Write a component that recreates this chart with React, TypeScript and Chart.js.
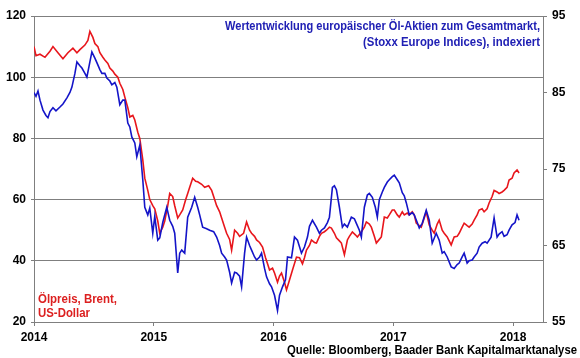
import React, { useEffect, useRef } from "react";
import { Chart, registerables } from "chart.js";

Chart.register(...registerables);

// x values: months since January 2014
const oilMonths = [0, 0.2, 0.6, 1.1, 1.6, 1.9, 2.4, 2.9, 3.4, 3.9, 4.3, 4.6, 5.1, 5.4, 5.6, 5.9, 6.1, 6.4, 6.6, 6.9, 7.1, 7.4, 7.6, 7.9, 8.1, 8.4, 8.6, 8.9, 9.1, 9.4, 9.6, 9.9, 10.1, 10.4, 10.6, 10.9, 11.1, 11.4, 11.6, 11.9, 12.1, 12.4, 12.6, 12.9, 13.1, 13.4, 13.6, 13.9, 14.1, 14.4, 14.6, 14.9, 15.2, 15.4, 15.6, 15.9, 16.2, 16.4, 16.8, 17.1, 17.5, 17.8, 18.1, 18.3, 18.6, 18.8, 19.1, 19.3, 19.6, 19.8, 20.1, 20.4, 20.6, 21.0, 21.3, 21.6, 21.8, 22.1, 22.3, 22.6, 22.9, 23.2, 23.4, 23.6, 23.9, 24.1, 24.4, 24.6, 24.8, 25.1, 25.3, 25.6, 25.9, 26.3, 26.6, 26.9, 27.1, 27.3, 27.6, 27.8, 28.1, 28.3, 28.6, 28.8, 29.1, 29.3, 29.6, 29.8, 30.1, 30.3, 30.6, 30.8, 31.1, 31.4, 31.6, 31.9, 32.2, 32.4, 32.7, 32.9, 33.1, 33.3, 33.6, 33.8, 34.1, 34.3, 34.6, 34.8, 35.1, 35.4, 35.6, 35.9, 36.1, 36.4, 36.6, 36.9, 37.1, 37.4, 37.6, 37.9, 38.1, 38.3, 38.6, 38.8, 39.1, 39.3, 39.6, 39.9, 40.1, 40.4, 40.6, 40.9, 41.1, 41.4, 41.8, 42.1, 42.4, 42.6, 42.9, 43.1, 43.4, 43.6, 43.9, 44.1, 44.4, 44.6, 44.9, 45.1, 45.4, 45.6, 45.9, 46.1, 46.4, 46.6, 46.9, 47.1, 47.4, 47.6, 47.9, 48.1, 48.4, 48.6];
const oilPrice = [110, 107, 107.5, 106.5, 108.5, 110, 108, 106, 108, 109.5, 108, 109, 110.5, 112, 115, 113, 111, 110, 108, 106.5, 105.6, 104.5, 103, 102, 101, 100, 98, 96, 93.5, 90, 87, 87.5, 86, 82, 80, 73, 67, 63, 60, 58, 57, 53, 49, 51, 53, 58, 62, 61, 58, 54, 55, 56.6, 60, 62, 64, 67, 66, 65.8, 65, 64, 64.5, 63, 60, 58, 56, 54, 51, 49, 47, 43.5, 50, 49, 48, 49, 52.7, 50, 49, 48, 46.8, 46, 44.5, 41, 39, 37, 37.6, 36, 33, 35, 36, 33, 30.5, 33.7, 37, 41.2, 41, 39, 41, 43.5, 45, 46.8, 46, 45.8, 48, 49, 49.5, 50, 51, 50.7, 49, 47.5, 46.5, 45.8, 42, 46.8, 48, 49.4, 48.5, 47.8, 49, 50, 51, 52.7, 52, 51, 48, 45.8, 47, 47.8, 54.3, 54, 55, 56.6, 56.6, 55, 54.3, 56, 55, 55.6, 55, 56, 55, 52.3, 51.5, 51, 54, 56, 51.7, 50, 49, 52, 53.3, 50, 49, 47.8, 45.2, 47.8, 48, 49, 51, 52.3, 51.5, 51, 52, 53.3, 55, 56.6, 57, 56, 57, 58.9, 61, 63, 62.5, 62, 62.5, 63, 64, 66.4, 67, 68.7, 69.7, 68.7];

const stockMonths = [0, 0.2, 0.4, 0.6, 0.9, 1.2, 1.4, 1.6, 1.9, 2.2, 2.6, 2.9, 3.3, 3.6, 3.8, 4.1, 4.3, 4.6, 4.8, 5.1, 5.3, 5.6, 5.8, 6.1, 6.3, 6.6, 6.8, 7.1, 7.3, 7.6, 7.8, 8.1, 8.3, 8.6, 8.9, 9.1, 9.4, 9.6, 9.8, 10.1, 10.3, 10.6, 10.9, 11.1, 11.4, 11.6, 11.9, 12.1, 12.4, 12.6, 12.9, 13.3, 13.6, 13.9, 14.1, 14.4, 14.6, 14.8, 15.1, 15.4, 15.8, 16.1, 16.4, 16.6, 16.9, 17.3, 17.6, 18.0, 18.3, 18.6, 18.8, 19.1, 19.3, 19.6, 19.8, 20.1, 20.3, 20.6, 20.8, 21.1, 21.3, 21.6, 21.8, 22.1, 22.3, 22.6, 22.8, 23.1, 23.3, 23.6, 23.8, 24.1, 24.4, 24.6, 24.9, 25.2, 25.4, 25.8, 26.1, 26.4, 26.8, 27.1, 27.4, 27.6, 27.9, 28.3, 28.6, 28.8, 29.1, 29.4, 29.6, 29.9, 30.1, 30.3, 30.6, 30.9, 31.1, 31.4, 31.8, 32.1, 32.3, 32.6, 32.8, 33.1, 33.4, 33.6, 33.9, 34.2, 34.4, 34.6, 34.9, 35.1, 35.4, 35.6, 35.9, 36.1, 36.4, 36.6, 36.9, 37.1, 37.3, 37.6, 37.9, 38.1, 38.4, 38.6, 38.9, 39.3, 39.6, 39.9, 40.3, 40.6, 40.9, 41.1, 41.4, 41.8, 42.1, 42.4, 42.6, 42.9, 43.1, 43.4, 43.6, 43.9, 44.1, 44.4, 44.6, 44.9, 45.2, 45.4, 45.8, 46.1, 46.4, 46.6, 46.9, 47.1, 47.4, 47.6, 47.9, 48.2, 48.4, 48.6];
const stockIndex = [85, 84.5, 85.2, 84, 82.7, 82, 81.7, 82.5, 83, 82.6, 83.1, 83.5, 84.3, 85, 85.7, 87.5, 89, 88.5, 88.2, 87.5, 87, 89, 90.3, 89.5, 88.9, 88, 87.5, 87.5, 86.9, 86.5, 86, 86.3, 85.7, 83.4, 84, 84, 81, 80.5, 79.2, 78.4, 76.6, 78.1, 73.6, 70, 69, 69.9, 66.6, 68.8, 65.7, 66, 68, 70, 68.3, 67.5, 66.6, 61.4, 64, 64.4, 64, 68.7, 70, 71.3, 70, 69, 67.4, 67.2, 67, 66.8, 66.1, 65, 64, 63.5, 63.1, 61.5, 60.1, 61.5, 61.4, 61, 59.6, 64, 66.1, 65, 64.4, 63.5, 63.1, 63.5, 64, 62, 60.9, 60, 59.6, 58.5, 56.5, 58.5, 59.6, 60.5, 63.5, 63.4, 66.1, 65.7, 64, 64.8, 66.1, 67.5, 68.3, 67.4, 66.6, 67, 67.3, 68, 68.7, 72.6, 72.8, 72.3, 70, 67.4, 67.8, 67.4, 68.7, 68.5, 67.9, 67, 66.1, 70, 71.6, 71.8, 71.3, 70, 68.7, 71, 72, 72.6, 73.3, 73.6, 74, 74.2, 73.6, 73.2, 71.9, 71.5, 70.6, 69, 69.3, 69, 68, 67.3, 67.9, 69.6, 68.3, 65.3, 66.6, 65.7, 64, 64.2, 63.5, 62.2, 62, 62.5, 62.7, 63.5, 64, 62.7, 63, 63.1, 63.5, 64, 64.8, 65.3, 65.5, 65.3, 66.1, 68.6, 66.1, 66.5, 66.8, 66.2, 66.4, 67, 67.7, 68, 69, 68.3];

const yearTicks = [0, 12, 24, 36, 48];
const yearLabels = ["2014", "2015", "2016", "2017", "2018"];
const leftTicks = [20, 40, 60, 80, 100, 120];
const rightTicks = [55, 65, 75, 85, 95];

const titleLines = ["Wertentwicklung europäischer Öl-Aktien zum Gesamtmarkt,", "(Stoxx Europe Indices), indexiert"];
const oilLabel = ["Ölpreis, Brent,", "US-Dollar"];
const sourceText = "Quelle: Bloomberg, Baader Bank Kapitalmarktanalyse";

const FONT = "'Liberation Sans', Arial, sans-serif";
const BLUE = "#1414c8";
const RED = "#e8161c";
const GRID = "#7f7f7f";

function drawFitted(ctx: CanvasRenderingContext2D, text: string, x: number, y: number, width: number, align: "left" | "right") {
  const w = ctx.measureText(text).width;
  const s = width / w;
  ctx.save();
  ctx.translate(align === "right" ? x - width : x, y);
  ctx.scale(s, 1);
  ctx.textAlign = "left";
  ctx.fillText(text, 0, 0);
  ctx.restore();
}

const textPlugin = {
  id: "texts",
  afterDraw(chart: any) {
    const ctx = chart.ctx as CanvasRenderingContext2D;
    ctx.save();
    ctx.textBaseline = "middle";
    ctx.font = `bold 13px ${FONT}`;
    ctx.fillStyle = "#2020b4";
    drawFitted(ctx, titleLines[0], 540, 26, 315, "right");
    drawFitted(ctx, titleLines[1], 540, 42, 177, "right");
    ctx.fillStyle = "#dc2020";
    drawFitted(ctx, oilLabel[0], 38, 299, 79, "left");
    drawFitted(ctx, oilLabel[1], 38, 313, 52, "left");
    ctx.fillStyle = "#000";
    drawFitted(ctx, sourceText, 577, 350, 290, "right");
    ctx.restore();
  },
};

export default function App() {
  const ref = useRef<HTMLCanvasElement>(null);
  useEffect(() => {
    if (!ref.current) return;
    const tickFont = { family: FONT, size: 12, weight: "bold" as const };
    const chart = new Chart(ref.current, {
      type: "line",
      data: {
        datasets: [
          {
            label: "Stoxx Europe Öl-Aktien relativ",
            data: stockMonths.map((m, i) => ({ x: m, y: stockIndex[i] })),
            borderColor: BLUE,
            borderWidth: 1.6,
            pointRadius: 0,
            tension: 0,
            yAxisID: "y1",
          },
          {
            label: "Ölpreis, Brent",
            data: oilMonths.map((m, i) => ({ x: m, y: oilPrice[i] })),
            borderColor: RED,
            borderWidth: 1.6,
            pointRadius: 0,
            tension: 0,
            yAxisID: "y",
          },
        ],
      },
      options: {
        animation: false,
        responsive: false,
        devicePixelRatio: 1,
        layout: { padding: { top: 16, left: 0, right: 0, bottom: 0 } },
        plugins: { legend: { display: false }, tooltip: { enabled: false } },
        scales: {
          x: {
            type: "linear",
            min: 0,
            max: 51,
            afterBuildTicks: (s: any) => {
              s.ticks = yearTicks.map((v) => ({ value: v }));
            },
            afterFit: (s: any) => {
              s.height = 36;
            },
            grid: { drawOnChartArea: false, drawTicks: true, tickLength: 4, color: GRID },
            border: { display: true, color: GRID, width: 1 },
            ticks: {
              font: tickFont,
              color: "#000",
              padding: 4,
              maxRotation: 0,
              autoSkip: false,
              callback: (v: any) => yearLabels[yearTicks.indexOf(Number(v))] ?? "",
            },
          },
          y: {
            position: "left",
            min: 20,
            max: 120,
            afterBuildTicks: (s: any) => {
              s.ticks = leftTicks.map((v) => ({ value: v }));
            },
            afterFit: (s: any) => {
              s.width = 34;
            },
            grid: { color: GRID, tickLength: 3, lineWidth: 1 },
            border: { display: true, color: GRID, width: 1 },
            ticks: { font: tickFont, color: "#000", padding: 5 },
          },
          y1: {
            position: "right",
            min: 55,
            max: 95,
            afterBuildTicks: (s: any) => {
              s.ticks = rightTicks.map((v) => ({ value: v }));
            },
            afterFit: (s: any) => {
              s.width = 37;
            },
            grid: { drawOnChartArea: false, color: GRID, tickLength: 4 },
            border: { display: true, color: GRID, width: 1 },
            ticks: { font: tickFont, color: "#000", padding: 5 },
          },
        },
      },
      plugins: [textPlugin],
    });
    return () => chart.destroy();
  }, []);
  return (
    <div style={{ position: "fixed", left: 0, top: 0, width: 580, height: 358, background: "#fff" }}>
      <canvas ref={ref} width={580} height={358} style={{ display: "block" }} />
    </div>
  );
}
